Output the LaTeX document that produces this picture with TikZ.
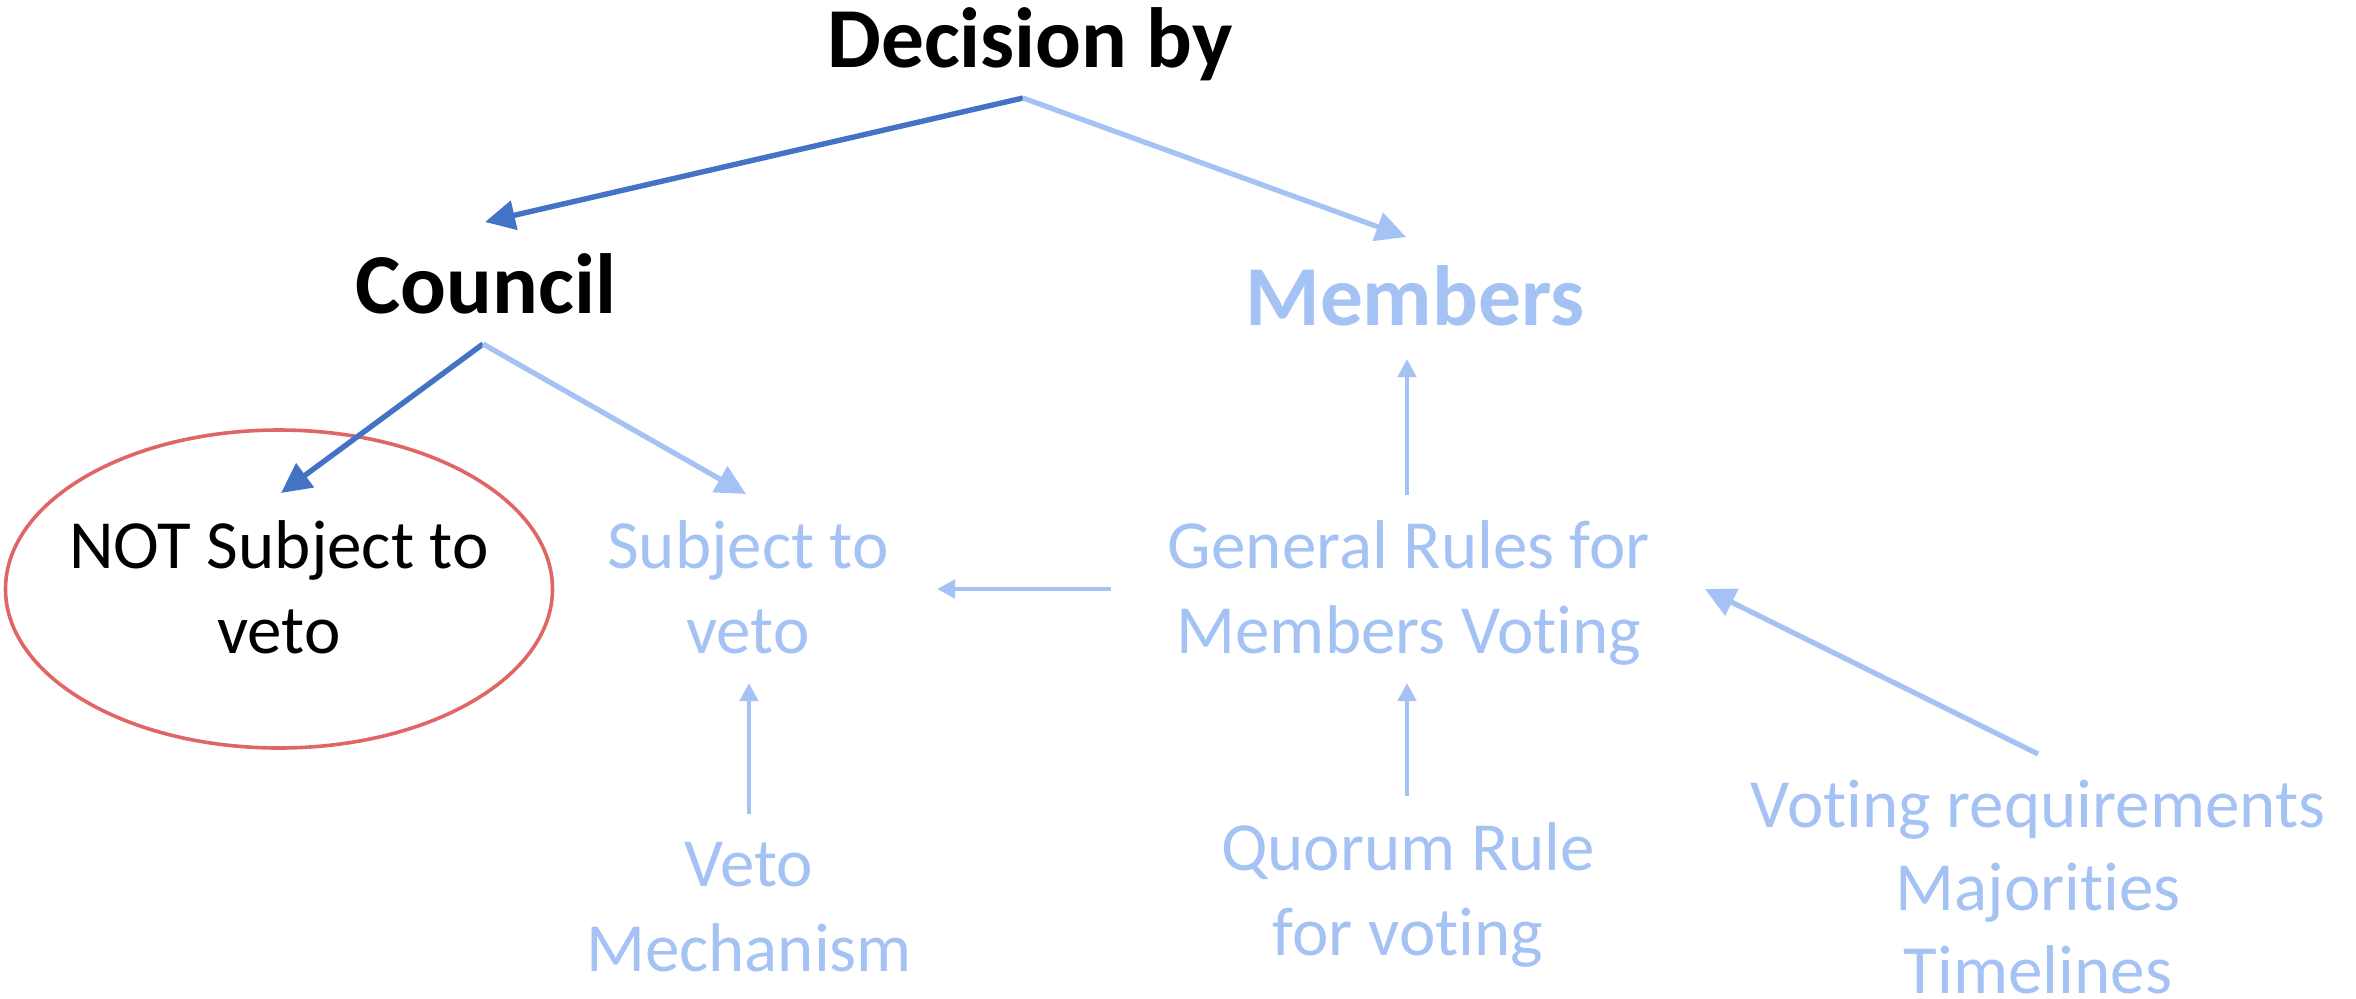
\documentclass[tikz,border=0pt]{standalone}
\usepackage{fontspec}
\setmainfont{Carlito}[Ligatures=NoCommon]
\usetikzlibrary{arrows.meta}
\definecolor{darkblue}{HTML}{4472C4}
\definecolor{lightblue}{HTML}{A4C2F4}
\definecolor{ellred}{HTML}{E06666}
\tikzset{
  title/.style={font=\fontsize{42.7}{52}\selectfont\bfseries, inner sep=0pt, anchor=base},
  label/.style={font=\fontsize{34.5}{42.3}\selectfont, inner sep=0pt, anchor=base, align=center, text=lightblue},
  bigdark/.style={draw=darkblue, line width=2.7pt, -{Triangle[length=15pt,width=14.5pt]}},
  biglight/.style={draw=lightblue, line width=2.6pt, -{Triangle[length=15pt,width=14.5pt]}},
  smalllight/.style={draw=lightblue, line width=2.4pt, -{Triangle[length=9pt,width=9pt]}},
}
\begin{document}
\begin{tikzpicture}[x={(0.5pt,0)}, y={(0,-0.5pt)}]
\useasboundingbox (0,0) rectangle (2356,998);
% nodes (anchor = baseline of last line)
\node[title] (dec) at (1030,67) {Decision by};
\node[title] (council) at (486,313) {Council};
\node[title, text=lightblue] (members) at (1415,325) {Members};
\node[label, text=black] (notsub) at (279,653) {NOT Subject to\\veto};
\node[label] (subj) at (748,653) {Subject to\\veto};
\node[label] (general) at (1409,653) {General Rules for\\Members Voting};
\node[label] (veto) at (749,971.5) {Veto\\Mechanism};
\node[label] (quorum) at (1408,955) {Quorum Rule\\for voting};
\node[label, font=\fontsize{34.5}{41.5}\selectfont] (voting) at (2038,993) {Voting requirements\\Majorities\\Timelines};
\draw[ellred, line width=1.8pt] ([shift={(0,-64)}]notsub.base) ellipse [x radius=273.5*0.5pt, y radius=159*0.5pt];
% connectors
\draw[bigdark] ([shift={(-7,31)}]dec.base) -- ([shift={(-1,-91)}]council.base);
\draw[biglight] ([shift={(-7,31)}]dec.base) -- ([shift={(-9,-88)}]members.base);
\draw[bigdark] ([shift={(-3,31)}]council.base) -- ([shift={(2,-160)}]notsub.base);
\draw[biglight] ([shift={(-3,31)}]council.base) -- ([shift={(-2,-159)}]subj.base);
\draw[smalllight] ([shift={(-298,-64)}]general.base) -- ([shift={(189,-64)}]subj.base);
\draw[smalllight] ([shift={(-2,-158)}]general.base) -- ([shift={(-8,34)}]members.base);
\draw[smalllight] ([shift={(-1,-159)}]quorum.base) -- ([shift={(-2,30)}]general.base);
\draw[biglight] ([shift={(0,-239)}]voting.base) -- ([shift={(296,-64)}]general.base);
\draw[smalllight] ([shift={(0,-157.5)}]veto.base) -- ([shift={(1,30)}]subj.base);
\end{tikzpicture}
\end{document}
